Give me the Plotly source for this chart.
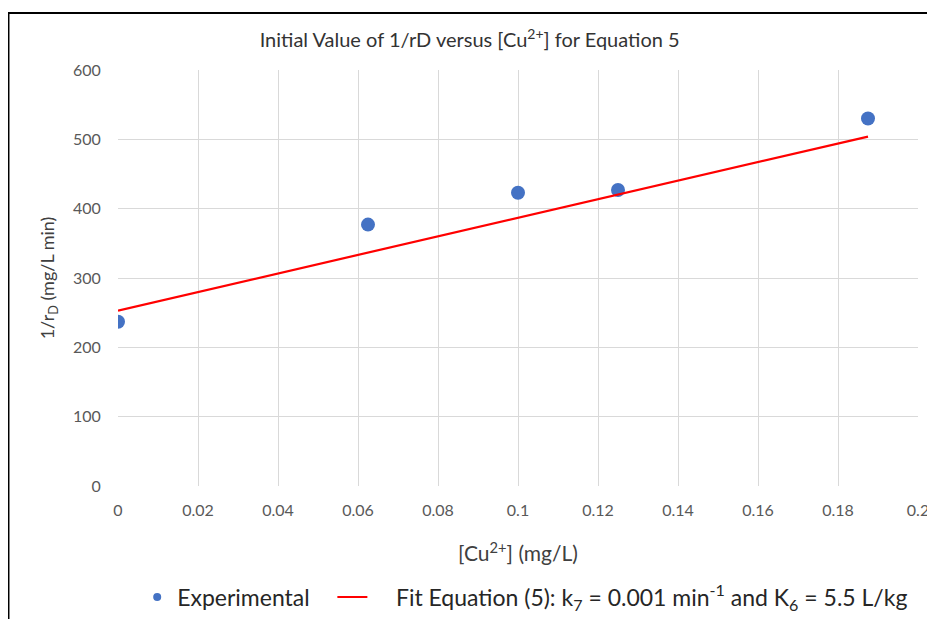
import plotly.graph_objects as go

cu_conc = [0.0, 0.0625, 0.1, 0.125, 0.1875]
inv_rd = [237, 377, 423, 427, 530]
fit_x = [0.0, 0.1875]
fit_y = [253, 504]
x_ticks = [0, 0.02, 0.04, 0.06, 0.08, 0.1, 0.12, 0.14, 0.16, 0.18, 0.2]
x_tick_labels = ["0", "0.02", "0.04", "0.06", "0.08", "0.1", "0.12", "0.14", "0.16", "0.18", "0.2"]
y_ticks = [0, 100, 200, 300, 400, 500, 600]

FONT = "Lato"
BLUE = "#4472C4"
NB = "\u00a0"

fig = go.Figure()
fig.add_trace(go.Scatter(
    x=cu_conc, y=inv_rd, mode="markers", name="Experimental", showlegend=False,
    marker=dict(color=BLUE, size=14, line=dict(width=0)),
))
# legend-only entry with a small marker, as in the reference legend
fig.add_trace(go.Scatter(
    x=[None], y=[None], mode="markers", name="Experimental" + NB * 3,
    marker=dict(color=BLUE, size=8, line=dict(width=0)),
))
fig.add_trace(go.Scatter(
    x=fit_x, y=fit_y, mode="lines",
    name=NB * 4 + "Fit Equation (5): k<sub>7</sub> = 0.001 min<sup>-1</sup> and K<sub>6</sub> = 5.5 L/kg",
    line=dict(color="#FF0000", width=2.2),
))

fig.update_layout(
    width=927, height=611,
    paper_bgcolor="white", plot_bgcolor="white",
    margin=dict(l=110, r=17, t=62, b=133, autoexpand=False),
    font=dict(family=FONT, color="#595959"),
    title=dict(text="Initial Value of 1/rD versus [Cu<sup>2+</sup>] for Equation 5",
               x=0.498, xanchor="center", y=0.9476, yanchor="middle",
               font=dict(family=FONT, size=20, color="#333333")),
    xaxis=dict(range=[0, 0.2], tickvals=x_ticks, ticktext=x_tick_labels,
               showgrid=True, gridcolor="#D9D9D9", gridwidth=1,
               zeroline=False, showline=False, automargin=False,
               tickfont=dict(size=16, color="#595959"),
               ticks="outside", ticklen=10, tickcolor="rgba(0,0,0,0)",
               title=dict(text="[Cu<sup>2+</sup>] (mg/L)", standoff=28,
                          font=dict(size=21, color="#404040"))),
    yaxis=dict(range=[0, 600], tickvals=y_ticks,
               showgrid=True, gridcolor="#D9D9D9", gridwidth=1,
               zeroline=False, showline=False, automargin=False,
               tickfont=dict(size=16, color="#595959"),
               ticks="outside", ticklen=13, tickcolor="rgba(0,0,0,0)",
               title=dict(text="1/r<sub>D</sub> (mg/L min)", standoff=13,
                          font=dict(size=18, color="#404040"))),
    legend=dict(orientation="h", x=0.509, xanchor="center", y=-0.267, yanchor="middle",
                font=dict(size=23, color="#262626"),
                bgcolor="rgba(0,0,0,0)"),
    showlegend=True,
)

# outer black border (image frame)
fig.add_shape(type="rect", xref="paper", yref="paper",
              x0=-0.1369, x1=1.1, y0=-0.6, y1=1.137,
              line=dict(color="black", width=2), fillcolor="rgba(0,0,0,0)")

fig.write_html("out.html")
